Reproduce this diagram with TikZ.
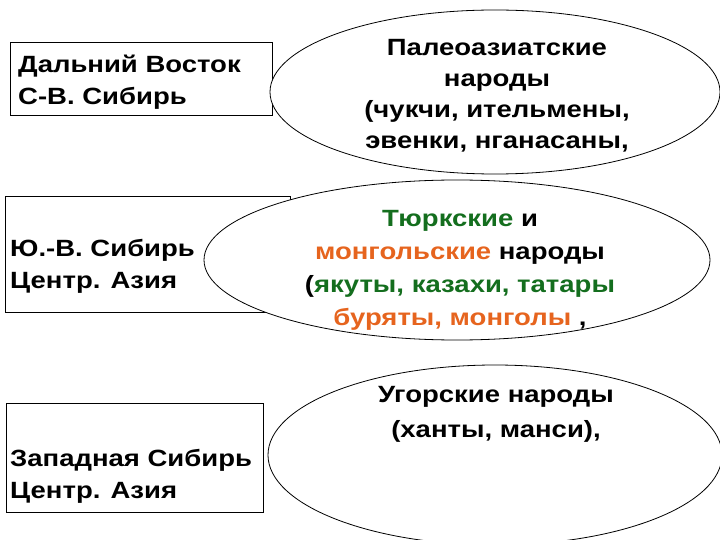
\documentclass[tikz,border=0pt]{standalone}
\usepackage{fontspec}
\setmainfont{Liberation Sans}
\definecolor{tgreen}{RGB}{20,110,30}
\definecolor{morange}{RGB}{230,100,30}
\begin{document}
\begin{tikzpicture}[x=1pt,y=-1pt,
  box/.style={draw,line width=0.8pt},
  ell/.style={draw,fill=white,line width=0.8pt},
  txt/.style={font=\fontsize{23.5}{31}\selectfont\bfseries,align=center,inner sep=0,xscale=1.17},
  ltxt/.style={font=\fontsize{23.5}{32}\selectfont\bfseries,align=left,anchor=west,inner sep=0,xscale=1.17}]
\useasboundingbox (0,0) rectangle (720,540);
\draw[box] (10,42) rectangle (272,115);
\draw[box] (5,196) rectangle (290,312);
\draw[box] (6,403) rectangle (263,512);
\node[ltxt] (t1) at (18,82) {Дальний Восток\\С-В. Сибирь};
\node[ltxt] (t2) at (10,266) {Ю.-В. Сибирь\\Центр. Азия};
\node[ltxt] (t3) at (10,476) {Западная Сибирь\\Центр. Азия};
\draw[ell] (495,92) ellipse [x radius=225, y radius=82];
\draw[ell] (457,260) ellipse [x radius=253, y radius=80];
\draw[ell] (495,455) ellipse [x radius=227, y radius=90];
\node[txt] (e1) at (497,96) {Палеоазиатские\\народы\\(чукчи, ительмены,\\эвенки, нганасаны,};
\node[txt,font=\fontsize{23.5}{33}\selectfont\bfseries] (e2) at (460,270) {\textcolor{tgreen}{Тюркские} и\\\textcolor{morange}{монгольские} народы\\(\textcolor{tgreen}{якуты, казахи, татары}\\\textcolor{morange}{буряты, монголы} ,};
\node[txt,font=\fontsize{23.5}{35}\selectfont\bfseries] (e3) at (496,414) {Угорские народы\\(ханты, манси),};
\end{tikzpicture}
\end{document}
